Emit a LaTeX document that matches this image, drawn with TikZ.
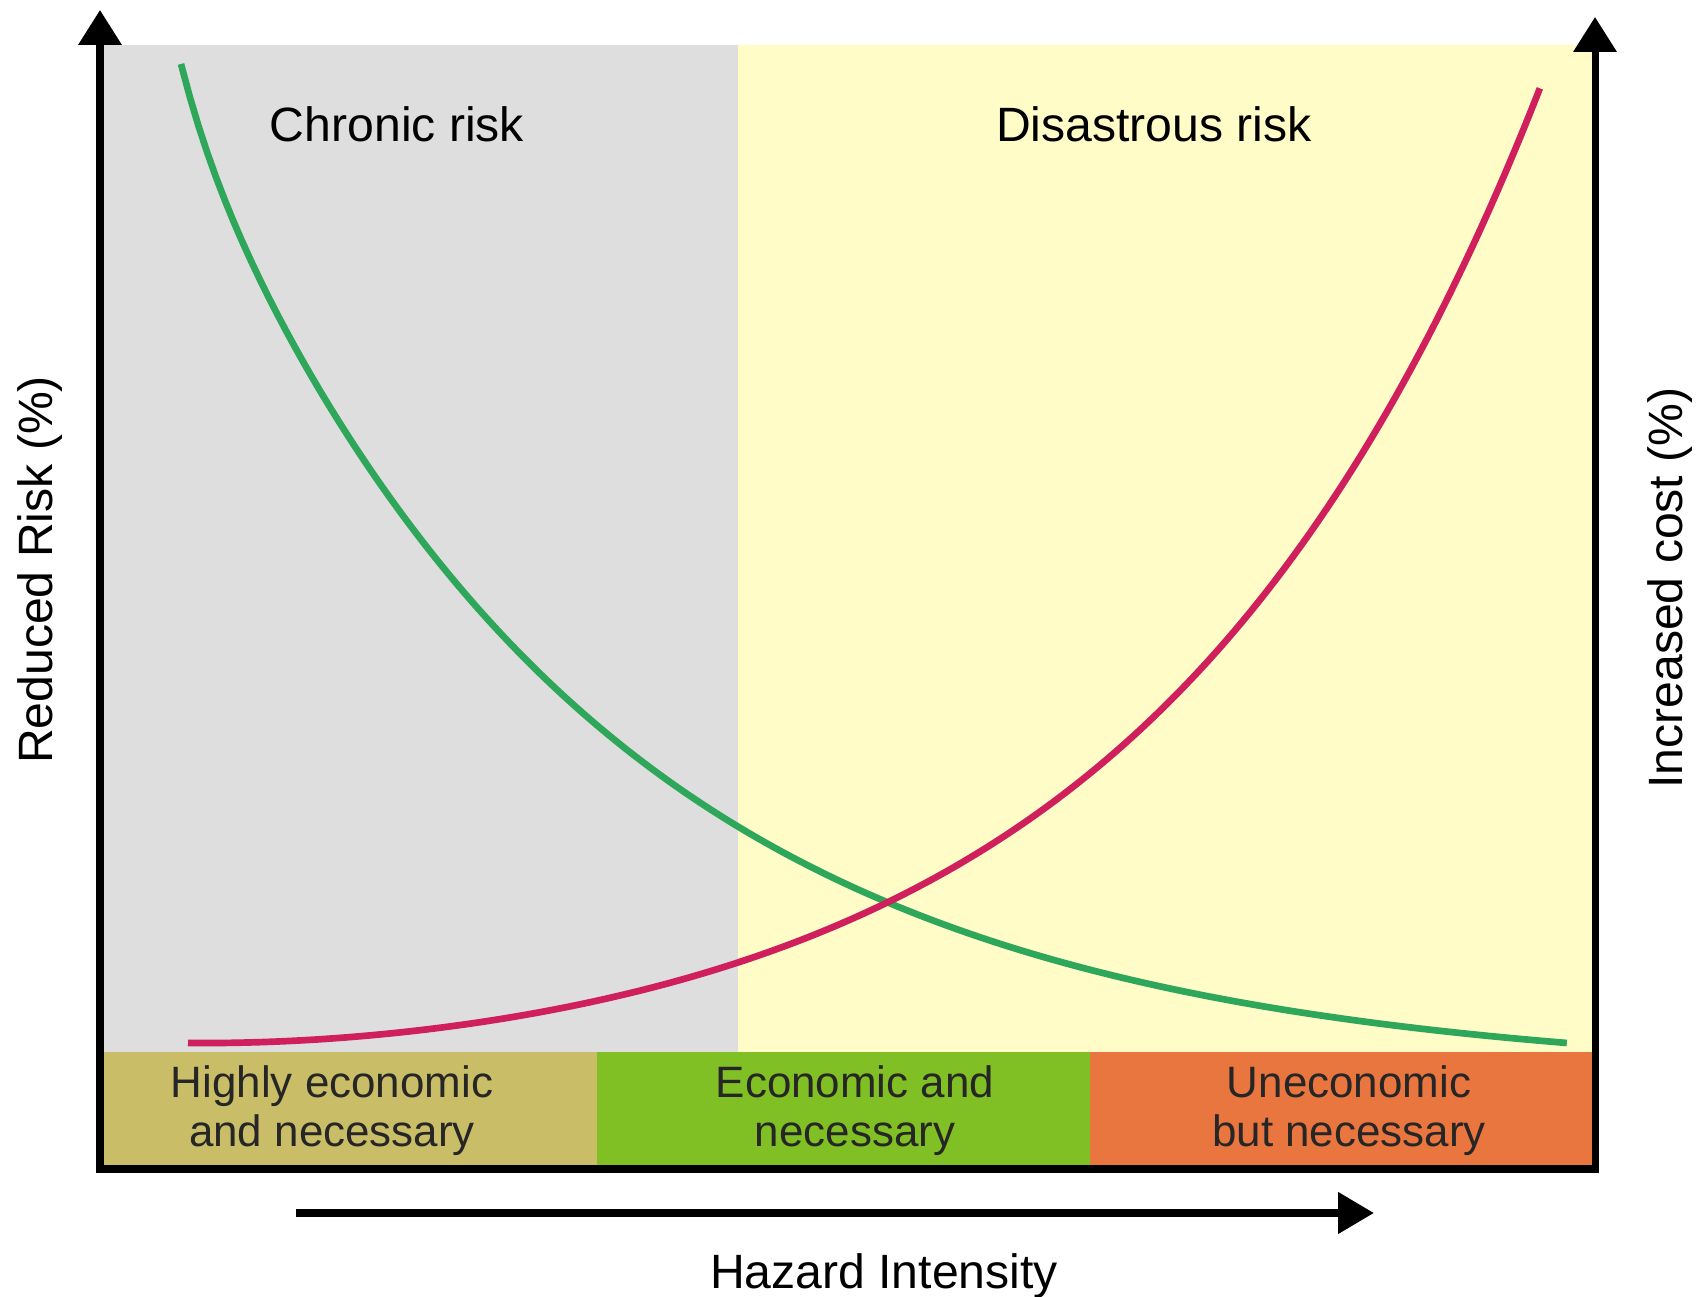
\documentclass[tikz,border=0pt]{standalone}
\usepackage{fontspec}
\setmainfont{Liberation Sans}
\usetikzlibrary{arrows.meta}
\definecolor{chronicgray}{HTML}{DEDEDE}
\definecolor{disasteryellow}{HTML}{FFFCC8}
\definecolor{olivebar}{HTML}{C9BE67}
\definecolor{greenbar}{HTML}{80C024}
\definecolor{orangebar}{HTML}{E9763F}
\definecolor{riskgreen}{HTML}{2FA75A}
\definecolor{costred}{HTML}{CF1F5D}
\tikzset{axtip/.tip={Triangle[length=0.35cm,width=0.42cm]}}
\tikzset{frame/.style={line width=2pt, axtip-axtip}}
\tikzset{hazardarrow/.style={line width=2.2pt, -{Triangle[length=0.36cm,width=0.40cm]}}}
\tikzset{curve/.style={line width=1.9pt, samples=160}}
\tikzset{axtext/.style={font=\fontsize{13.7}{16}\selectfont, inner sep=0pt}}
\tikzset{bartext/.style={font=\fontsize{12.5}{13.9}\selectfont, align=center, inner sep=0pt, text=black!85}}

\begin{document}
\begin{tikzpicture}
\useasboundingbox (0,0) rectangle (17.01,12.97);
% background zones
\fill[chronicgray] (1.00,2.45) rectangle (7.38,12.52);
\fill[disasteryellow] (7.38,2.45) rectangle (15.95,12.52);
\fill[olivebar] (1.00,1.28) rectangle (5.97,2.45);
\fill[greenbar] (5.97,1.28) rectangle (10.90,2.45);
\fill[orangebar] (10.90,1.28) rectangle (15.95,2.45);

\coordinate (ltip) at (1.00,12.87);
\coordinate (lo) at (1.00,1.28);
\coordinate (ro) at (15.95,1.28);
\coordinate (rtip) at (15.95,12.80);
\coordinate (hstart) at (2.96,0.84);
\coordinate (hend) at (13.74,0.84);

\node[axtext, anchor=base] (chronic) at (3.97,11.55) {Chronic risk};
\node[axtext, anchor=base] (disastrous) at (11.54,11.55) {Disastrous risk};
\node[axtext, anchor=base] (hazard) at (8.84,0.08) {Hazard Intensity};
\node[axtext, anchor=base, rotate=90] (reduced) at (0.53,7.27) {Reduced Risk (\%)};
\node[axtext, anchor=base, rotate=90] (increased) at (16.82,7.09) {Increased cost (\%)};

\node[bartext] (highly) at (3.32,1.86) {Highly economic\\and necessary};
\node[bartext] (economic) at (8.55,1.86) {Economic and\\necessary};
\node[bartext] (uneconomic) at (13.49,1.86) {Uneconomic\\but necessary};

% curves
\draw[curve, riskgreen] plot[domain=1.81:15.67] (\x,{2.2+exp(2.12-0.2409*(\x-2.39))+0.55*exp(-3*(\x-1.81))});
\draw[curve, costred] plot[domain=1.88:15.40] (\x,{2.0+exp(0.215+0.2529*(\x-7.11))+0.21*exp(-0.45*(\x-1.88))});

\draw[frame] (ltip) -- (lo) -- (ro) -- (rtip);
\draw[hazardarrow] (hstart) -- (hend);
\end{tikzpicture}
\end{document}
